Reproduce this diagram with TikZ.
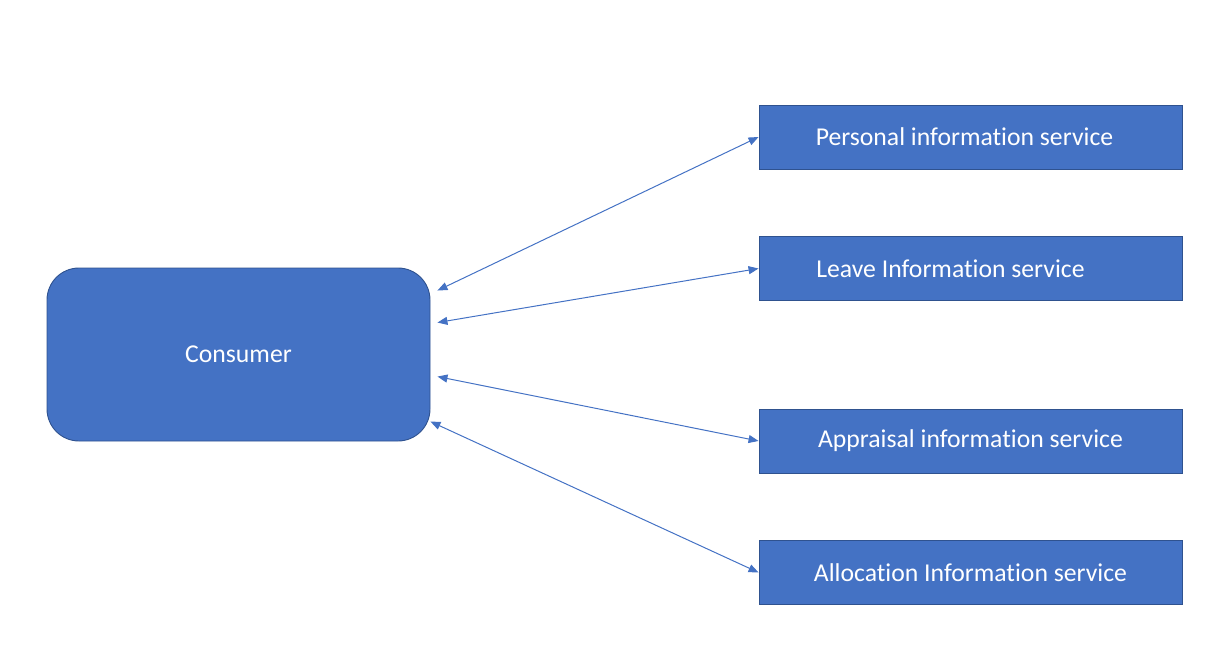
\documentclass[tikz,border=0pt]{standalone}
\usepackage{fontspec}
\setmainfont[Ligatures=NoCommon]{Carlito}
\usetikzlibrary{arrows.meta}
\definecolor{boxfill}{HTML}{4472C4}
\definecolor{boxline}{HTML}{2F528F}
\begin{document}
\begin{tikzpicture}[x=1pt,y=-1pt,
  svc/.style={draw=boxline,fill=boxfill,line width=0.9pt,minimum width=423pt,minimum height=64pt,inner sep=0pt,text=white,font=\fontsize{25.7}{30}\selectfont},
  cons/.style={draw=boxline,fill=boxfill,line width=0.9pt,rounded corners=32pt,minimum width=383pt,minimum height=173pt,inner sep=0pt,text=white,font=\fontsize{25.7}{30}\selectfont},
  link/.style={draw=boxfill,line width=1pt,{Triangle[length=10pt,width=8pt]}-{Triangle[length=10pt,width=8pt]}}]
\useasboundingbox (0,0) rectangle (1232,661);
\node[cons] (c) at (238.5,354.5) {\raisebox{-1.5pt}{Consumer}};
\node[svc] (p1) at (970.5,137) {\raisebox{-1.5pt}{Personal information service}\hspace{12pt}\mbox{}};
\node[svc] (p2) at (970.5,268.5) {\raisebox{-1.5pt}{Leave Information service}\hspace{40pt}\mbox{}};
\node[svc] (p3) at (970.5,441) {\raisebox{-1.5pt}{Appraisal information service}};
\node[svc] (p4) at (970.5,572.5) {\raisebox{-1.5pt}{Allocation Information service}};
\draw[link] ([shift={(7,23)}]c.north east) -- (p1.west);
\draw[link] ([shift={(7,55)}]c.north east) -- (p2.west);
\draw[link] ([shift={(7,109)}]c.north east) -- (p3.west);
\draw[link] ([shift={(0,154)}]c.north east) -- (p4.west);
\end{tikzpicture}
\end{document}
